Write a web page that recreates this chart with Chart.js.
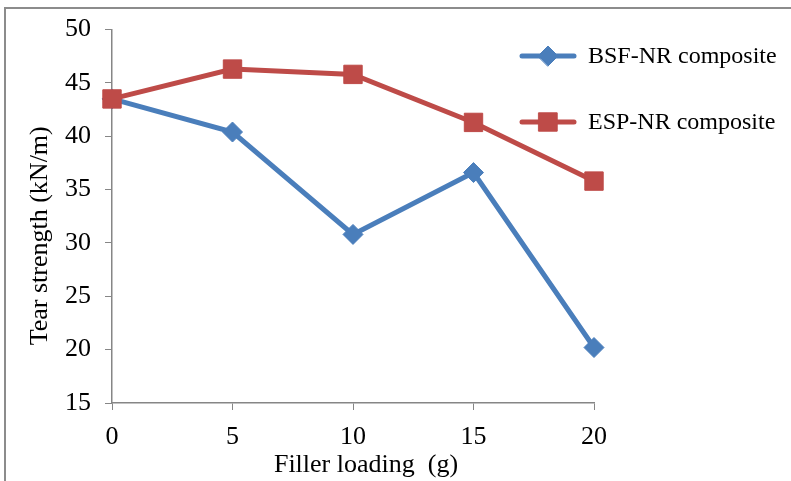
<!DOCTYPE html>
<html>
<head>
<meta charset="utf-8">
<script src="https://cdn.jsdelivr.net/npm/chart.js@4/dist/chart.umd.min.js"></script>
<style>
	html, body { margin: 0; padding: 0; background: #fff; }
	canvas { display: block; }
</style>
</head>
<body>
<canvas id="ChartTearStrength" width="791" height="481"></canvas>
<script>
// --------------
// DATA
// --------------
const fillerLoading = [0, 5, 10, 15, 20];
const bsfValues = [43.5, 40.4, 30.8, 36.6, 20.2];
const espValues = [43.5, 46.3, 45.8, 41.3, 35.8];
const yTicks = [15, 20, 25, 30, 35, 40, 45, 50];
const seriesNames = ["BSF-NR composite", "ESP-NR composite"];

const BLUE = "#4a7ebb";
const RED = "#be4b48";
const AXIS = "#868686";
const FONT = "'Liberation Serif', 'Times New Roman', serif";
const NBSP = "\u00a0";

const toPoints = (xs, ys) => xs.map((x, i) => ({ x: x, y: ys[i] }));

// frame round the picture (top + left edge only visible)
const framePlugin = {
	id: "frame",
	beforeDraw(chart) {
		const ctx = chart.ctx;
		ctx.save();
		ctx.strokeStyle = "#8c8c8c";
		ctx.lineWidth = 2;
		ctx.beginPath();
		ctx.moveTo(5, 481);
		ctx.lineTo(5, 8);
		ctx.lineTo(791, 8);
		ctx.stroke();
		ctx.restore();
	},
};

// legend at top right, drawn by hand
const legendPlugin = {
	id: "customLegend",
	afterDraw(chart) {
		const ctx = chart.ctx;
		const rows = [
			{ name: seriesNames[0], color: BLUE, style: "rectRot", radius: 10, y: 56 },
			{ name: seriesNames[1], color: RED, style: "rect", radius: 13, y: 122 },
		];
		ctx.save();
		rows.forEach((r) => {
			ctx.strokeStyle = r.color;
			ctx.lineWidth = 5;
			ctx.lineCap = "round";
			ctx.beginPath();
			ctx.moveTo(522, r.y);
			ctx.lineTo(574, r.y);
			ctx.stroke();
			ctx.fillStyle = r.color;
			ctx.lineWidth = 1;
			Chart.helpers.drawPoint(ctx, { pointStyle: r.style, radius: r.radius, borderWidth: 1 }, 548, r.y);
			ctx.fillStyle = "#000";
			ctx.font = "24px " + FONT;
			ctx.textBaseline = "middle";
			ctx.textAlign = "left";
			ctx.fillText(r.name, 588, r.y + 1);
		});
		ctx.restore();
	},
};

const dataTear = {
	datasets: [
		{
			label: seriesNames[1],
			data: toPoints(fillerLoading, espValues),
			borderColor: RED,
			backgroundColor: RED,
			borderWidth: 5,
			pointStyle: "rect",
			pointRadius: 13,
			pointBorderWidth: 1,
			order: 0,
			clip: false,
		},
		{
			label: seriesNames[0],
			data: toPoints(fillerLoading, bsfValues),
			borderColor: BLUE,
			backgroundColor: BLUE,
			borderWidth: 5,
			pointStyle: "rectRot",
			pointRadius: 10,
			pointBorderWidth: 1,
			order: 1,
			clip: false,
		},
	],
};

const configTear = {
	type: "line",
	data: dataTear,
	options: {
		responsive: false,
		animation: false,
		layout: { padding: { left: 0, right: 197, top: 25, bottom: 0 } },
		plugins: {
			legend: { display: false },
			tooltip: { enabled: false },
		},
		elements: { line: { tension: 0 } },
		scales: {
			x: {
				type: "linear",
				min: 0,
				max: 20,
				afterFit: (s) => { s.height = 78; },
				afterBuildTicks: (s) => { s.ticks = fillerLoading.map((v) => ({ value: v })); },
				grid: { drawOnChartArea: false, drawTicks: true, tickLength: 7, color: AXIS },
				border: { color: AXIS, width: 1.5 },
				ticks: { color: "#000", font: { family: FONT, size: 26 }, padding: 12 },
				title: {
					display: true,
					text: NBSP.repeat(4) + "Filler loading  (g)",
					color: "#000",
					font: { family: FONT, size: 26 },
					padding: { top: 0, bottom: 0 },
				},
			},
			y: {
				min: 15,
				max: 50,
				afterFit: (s) => { s.width = 112; },
				afterBuildTicks: (s) => { s.ticks = yTicks.map((v) => ({ value: v })); },
				grid: { drawOnChartArea: false, drawTicks: true, tickLength: 7, color: AXIS },
				border: { color: AXIS, width: 1.5 },
				ticks: { color: "#000", font: { family: FONT, size: 26 }, padding: 14 },
				title: {
					display: true,
					text: "Tear strength (kN/m)" + NBSP.repeat(6),
					color: "#000",
					font: { family: FONT, size: 26 },
					padding: { top: 25, bottom: 0 },
				},
			},
		},
	},
	plugins: [framePlugin, legendPlugin],
};

const ChartTear = new Chart(document.getElementById("ChartTearStrength"), configTear);
</script>
</body>
</html>
